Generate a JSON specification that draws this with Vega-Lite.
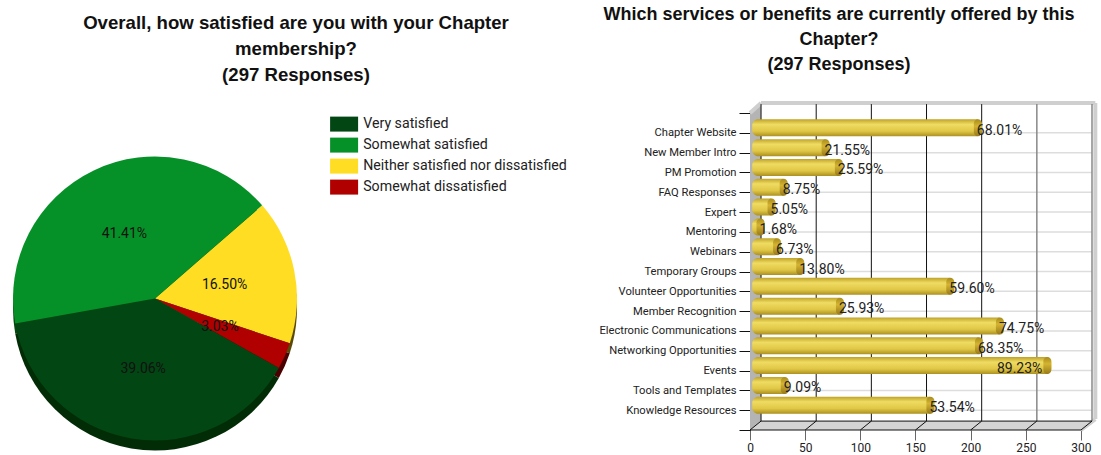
{"$schema":"https://vega.github.io/schema/vega-lite/v6.json","padding":{"left":0,"top":6,"right":0,"bottom":0},"background":"white","spacing":440,"bounds":"flush","config":{"view":{"stroke":null},"font":"Liberation Sans"},"hconcat":[{"width":310,"height":355,"title":{"text":["Overall, how satisfied are you with your Chapter","membership?","(297  Responses)"],"font":"Liberation Sans","fontSize":18.6,"fontWeight":"bold","color":"#111111","anchor":"middle","dx":141,"offset":15,"lineHeight":26},"data":{"values":[{"answer":"Neither satisfied nor dissatisfied","pct":16.5,"label":"16.50%","o":1},{"answer":"Somewhat dissatisfied","pct":3.03,"label":"3.03%","o":2},{"answer":"Very satisfied","pct":39.06,"label":"39.06%","o":3},{"answer":"Somewhat satisfied","pct":41.41,"label":"41.41%","o":4}]},"encoding":{"theta":{"field":"pct","type":"quantitative","stack":true,"scale":{"domain":[0,100],"range":[0.855,7.138]}},"order":{"field":"o","type":"quantitative"}},"layer":[{"mark":{"type":"arc","radius":142,"yOffset":31},"encoding":{"color":{"field":"answer","type":"nominal","legend":null,"scale":{"domain":["Very satisfied","Somewhat satisfied","Neither satisfied nor dissatisfied","Somewhat dissatisfied"],"range":["#012c05","#034a0f","#5a4a08","#4a0000"]}}}},{"mark":{"type":"arc","radius":142,"yOffset":21},"encoding":{"color":{"field":"answer","type":"nominal","sort":null,"scale":{"domain":["Very satisfied","Somewhat satisfied","Neither satisfied nor dissatisfied","Somewhat dissatisfied"],"range":["#024613","#069128","#fedd23","#b00000"]},"legend":{"title":null,"orient":"none","legendX":337,"legendY":17,"symbolType":"M-2,-1.07H2V1.07H-2Z","symbolSize":196,"symbolStrokeWidth":0,"symbolOpacity":1,"labelFont":"Roboto","labelFontSize":14.2,"labelColor":"#222222","labelOffset":12,"rowPadding":5,"labelLimit":300}}}},{"mark":{"type":"text","radius":71,"yOffset":21,"font":"Roboto","fontSize":14,"color":"#111111"},"encoding":{"text":{"field":"label"}}}],"resolve":{"scale":{"color":"independent"}}},{"width":342,"height":330,"title":{"text":["Which services or benefits are currently offered by this","Chapter?","(297  Responses)"],"font":"Liberation Sans","fontSize":18,"fontWeight":"bold","color":"#111111","anchor":"middle","dx":-82,"offset":26,"lineHeight":25},"resolve":{"scale":{"y":"independent"},"axis":{"y":"independent"}},"layer":[{"data":{"name":"frame","values":[{"part":"floor","x":0,"r":16,"r2":16},{"part":"floor","x":10,"r":15.55,"r2":16},{"part":"floor","x":300,"r":15.55,"r2":16},{"part":"floor","x":310,"r":15.55,"r2":15.55},{"part":"wall","x":0,"r":0,"r2":16},{"part":"wall","x":10,"r":-0.45,"r2":15.55}]},"encoding":{"x":{"field":"x","type":"quantitative","scale":{"domain":[0,310],"range":[0,342],"nice":false},"axis":{"values":[0,50,100,150,200,250,300],"domain":false,"grid":false,"tickSize":10,"tickColor":"#666666","title":null,"labelFont":"Roboto","labelFontSize":12,"labelColor":"#222222","labelPadding":2,"labelFlush":false}},"y":{"field":"r","type":"quantitative","scale":{"domain":[-0.657,16],"range":[0,330],"nice":false,"zero":false},"axis":null},"y2":{"field":"r2"}},"layer":[{"transform":[{"filter":"datum.part==='floor'"}],"mark":{"type":"area","color":"#d4d4d4","opacity":1}},{"transform":[{"filter":"datum.part==='wall'"}],"mark":{"type":"area","color":"#b4b4b4","opacity":1}}]},{"data":{"values":[{"x":10,"x2":310,"r":1,"r2":1,"k":"light"},{"x":10,"x2":310,"r":2,"r2":2,"k":"light"},{"x":10,"x2":310,"r":3,"r2":3,"k":"light"},{"x":10,"x2":310,"r":4,"r2":4,"k":"light"},{"x":10,"x2":310,"r":5,"r2":5,"k":"light"},{"x":10,"x2":310,"r":6,"r2":6,"k":"light"},{"x":10,"x2":310,"r":7,"r2":7,"k":"light"},{"x":10,"x2":310,"r":8,"r2":8,"k":"light"},{"x":10,"x2":310,"r":9,"r2":9,"k":"light"},{"x":10,"x2":310,"r":10,"r2":10,"k":"light"},{"x":10,"x2":310,"r":11,"r2":11,"k":"light"},{"x":10,"x2":310,"r":12,"r2":12,"k":"light"},{"x":10,"x2":310,"r":13,"r2":13,"k":"light"},{"x":10,"x2":310,"r":14,"r2":14,"k":"light"},{"x":10,"x2":310,"r":15,"r2":15,"k":"light"},{"x":10,"x2":313,"r":-0.5,"r2":-0.5,"k":"edge"},{"x":313,"x2":313,"r":-0.5,"r2":15.45,"k":"edge"},{"x":0,"x2":10,"r":0,"r2":-0.5,"k":"edge"},{"x":300,"x2":313,"r":16,"r2":15.45,"k":"edge"},{"x":10,"x2":10,"r":-0.45,"r2":15.55,"k":"black"},{"x":60,"x2":60,"r":-0.45,"r2":15.55,"k":"black"},{"x":110,"x2":110,"r":-0.45,"r2":15.55,"k":"black"},{"x":160,"x2":160,"r":-0.45,"r2":15.55,"k":"black"},{"x":210,"x2":210,"r":-0.45,"r2":15.55,"k":"black"},{"x":260,"x2":260,"r":-0.45,"r2":15.55,"k":"grey"},{"x":310,"x2":310,"r":-0.45,"r2":15.55,"k":"grey"},{"x":10,"x2":310,"r":15.55,"r2":15.55,"k":"black"},{"x":0,"x2":300,"r":16,"r2":16,"k":"black"},{"x":0,"x2":10,"r":16,"r2":15.55,"k":"black"},{"x":50,"x2":60,"r":16,"r2":15.55,"k":"black"},{"x":100,"x2":110,"r":16,"r2":15.55,"k":"black"},{"x":150,"x2":160,"r":16,"r2":15.55,"k":"black"},{"x":200,"x2":210,"r":16,"r2":15.55,"k":"black"},{"x":250,"x2":260,"r":16,"r2":15.55,"k":"black"},{"x":300,"x2":310,"r":16,"r2":15.55,"k":"black"}]},"encoding":{"x":{"field":"x","type":"quantitative"},"x2":{"field":"x2"},"y":{"field":"r","type":"quantitative","scale":{"domain":[-0.657,16],"range":[0,330],"nice":false,"zero":false},"axis":null},"y2":{"field":"r2"}},"layer":[{"transform":[{"filter":"datum.k==='light'"}],"mark":{"type":"rule","color":"#dddddd","strokeWidth":1.5}},{"transform":[{"filter":"datum.k==='edge'"}],"mark":{"type":"rule","color":"#cfcfcf","strokeWidth":4}},{"transform":[{"filter":"datum.k==='grey'"}],"mark":{"type":"rule","color":"#888888","strokeWidth":1.5}},{"transform":[{"filter":"datum.k==='black'"}],"mark":{"type":"rule","color":"#111111","strokeWidth":1}}]},{"data":{"values":[{"service":"Chapter Website","resp":202,"label":"68.01%"},{"service":"New Member Intro","resp":64,"label":"21.55%"},{"service":"PM Promotion","resp":76,"label":"25.59%"},{"service":"FAQ Responses","resp":26,"label":"8.75%"},{"service":"Expert","resp":15,"label":"5.05%"},{"service":"Mentoring","resp":5,"label":"1.68%"},{"service":"Webinars","resp":20,"label":"6.73%"},{"service":"Temporary Groups","resp":41,"label":"13.80%"},{"service":"Volunteer Opportunities","resp":177,"label":"59.60%"},{"service":"Member Recognition","resp":77,"label":"25.93%"},{"service":"Electronic Communications","resp":222,"label":"74.75%"},{"service":"Networking Opportunities","resp":203,"label":"68.35%"},{"service":"Events","resp":265,"label":"89.23%"},{"service":"Tools and Templates","resp":27,"label":"9.09%"},{"service":"Knowledge Resources","resp":159,"label":"53.54%"}]},"encoding":{"y":{"field":"service","type":"nominal","scale":{"type":"point","padding":0,"range":[13,330],"domain":["","Chapter Website","New Member Intro","PM Promotion","FAQ Responses","Expert","Mentoring","Webinars","Temporary Groups","Volunteer Opportunities","Member Recognition","Electronic Communications","Networking Opportunities","Events","Tools and Templates","Knowledge Resources"," "]},"axis":{"title":null,"orient":"left","tickSize":11,"tickColor":"#111111","domainColor":"#111111","labelPadding":3,"labelFont":"Roboto","labelFontSize":11.2,"labelColor":"#222222","labelLimit":200,"grid":false}},"x":{"field":"resp","type":"quantitative"}},"layer":[{"mark":{"type":"bar","height":17,"xOffset":9,"yOffset":-5,"cornerRadius":6,"color":{"x1":0,"y1":0,"x2":0,"y2":1,"gradient":"linear","stops":[{"offset":0,"color":"#bfa228"},{"offset":0.3,"color":"#efdc62"},{"offset":0.7,"color":"#e0c645"},{"offset":1,"color":"#ab9020"}]}},"encoding":{"x2":{"datum":2}}},{"mark":{"type":"tick","orient":"vertical","thickness":8,"size":17,"xOffset":5,"yOffset":-5,"cornerRadius":4,"opacity":1,"color":{"x1":0,"y1":0,"x2":0,"y2":1,"gradient":"linear","stops":[{"offset":0,"color":"#a88c1c"},{"offset":0.4,"color":"#d4b431"},{"offset":1,"color":"#96791a"}]}}},{"transform":[{"filter":"datum.service!=='Events'"}],"mark":{"type":"text","align":"left","dx":4,"dy":-2,"font":"Roboto","fontSize":14,"color":"#222222"},"encoding":{"text":{"field":"label"}}},{"transform":[{"filter":"datum.service==='Events'"}],"mark":{"type":"text","align":"right","dx":0,"dy":-2,"font":"Roboto","fontSize":14,"color":"#222222"},"encoding":{"text":{"field":"label"}}}]}]}]}
